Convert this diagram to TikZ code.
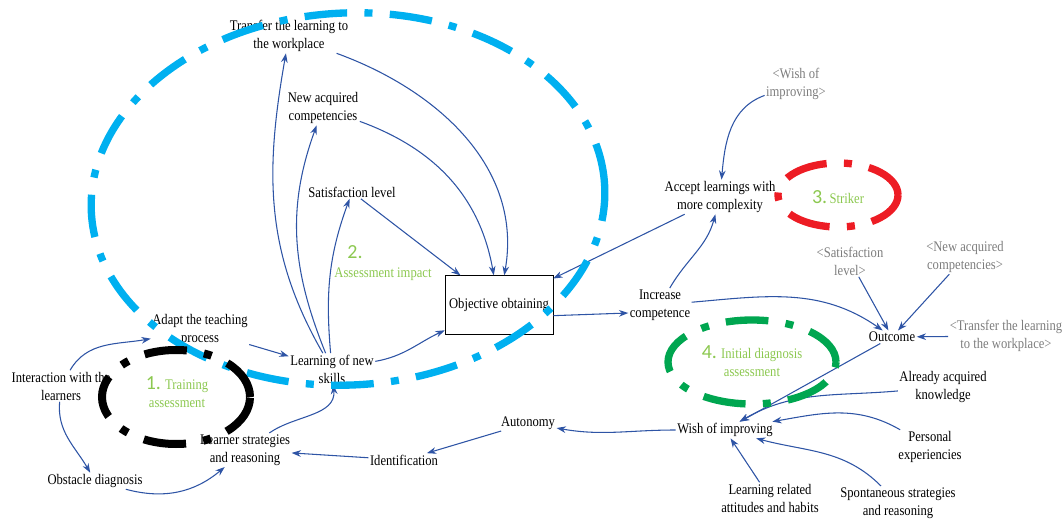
\documentclass[tikz,border=0pt]{standalone}
\usepackage{fontspec}
\setmainfont{Liberation Serif}[FakeStretch=0.86]
\newfontfamily\numfont{Carlito}
\usepackage{tikz}
\usetikzlibrary{arrows.meta}
\usetikzlibrary{calc}

\definecolor{arr}{RGB}{46,84,165}
\definecolor{grn}{RGB}{140,200,80}
\definecolor{loopblue}{RGB}{0,176,240}
\definecolor{loopred}{RGB}{237,28,36}
\definecolor{loopgreen}{RGB}{0,166,80}
\definecolor{shade}{RGB}{125,125,125}

\begin{document}
\begin{tikzpicture}
[x=0.75pt,y=0.75pt,>={Stealth[length=7pt,width=5pt]},
every node/.style={align=center,inner sep=1pt,font=\fontsize{11}{13.5}\selectfont},
lbl/.style={text=grn},
shadow/.style={text=shade},
conn/.style={->,draw=arr,line width=0.8pt},
loop/.style={line width=5.5pt,dash pattern=on 32pt off 13pt on 6pt off 13pt}]

\useasboundingbox (0,0) rectangle (1063,518);

% left loop
\node (inter) at (61,132) {Interaction with the\\learners};
\node (adapt) at (200,188) {Adapt the teaching\\process};
\node (obst) at (95,37) {Obstacle diagnosis};
\node (strat) at (245,68) {Learner strategies\\and reasoning};
\node (learn) at (332,149) {Learning of new\\skills};
\node[lbl] (one) at (177,126) {{\numfont\fontsize{15}{15}\selectfont 1.} Training\\assessment};

% top
\node (transfer) at (289,482) {Transfer the learning to\\the workplace};
\node (newcomp) at (323,410) {New acquired\\competencies};
\node (satis) at (352,326) {Satisfaction level};
\node[lbl,font=\numfont\fontsize{15}{15}\selectfont] (twonum) at (355,266) {2.};
\node[lbl] (two) at (383,244) {Assessment impact};
\node[draw,minimum width=81pt,minimum height=44pt] (obj) at (499,213) {Objective obtaining};

% right
\node (incr) at (660,213) {Increase\\competence};
\node (accept) at (720,321) {Accept learnings with\\more complexity};
\node[shadow] (gwish) at (796,434) {<Wish of\\improving>};
\node[lbl] (three) at (838,321) {{\numfont\fontsize{15}{15}\selectfont 3.}\,Striker};
\node[shadow] (gsatis) at (850,257) {<Satisfaction\\level>};
\node[shadow] (gnew) at (965,261) {<New acquired\\competencies>};
\node (outcome) at (892,181) {Outcome};
\node[shadow] (gtransfer) at (1006,182) {<Transfer the learning\\to the workplace>};
\node[lbl] (four) at (752,157) {{\numfont\fontsize{15}{15}\selectfont 4.} Initial diagnosis\\assessment};

% bottom
\node (already) at (943,131) {Already acquired\\knowledge};
\node (pers) at (930,71) {Personal\\experiencies};
\node (spont) at (898,15) {Spontaneous strategies\\and reasoning};
\node (attit) at (770,20) {Learning related\\attitudes and habits};
\node (wish) at (725,88) {Wish of improving};
\node (auton) at (528,95) {Autonomy};
\node (ident) at (404,58) {Identification};

\foreach \from/\to in {satis/obj,accept/obj,gsatis/outcome,gnew/outcome,gtransfer/outcome,
  outcome/wish,attit/wish,auton/ident,ident/strat,adapt/learn}
\draw[conn] (\from) -- (\to);

\foreach \from/\to/\o/\i in {learn/transfer/120/-100,learn/newcomp/112/-110,learn/satis/95/-110,
  transfer/obj/-20/80,newcomp/obj/-20/100,incr/accept/60/-105,incr/outcome/5/145,
  gwish/accept/200/85,already/wish/185/30,pers/wish/150/10,spont/wish/135/-15,
  wish/auton/180/-10,strat/learn/35/-85,inter/adapt/60/190,inter/obst/-95/120,
  obst/strat/-15/220,learn/obj/10/205}
\draw[conn] (\from) to[out=\o,in=\i] (\to);

\draw[conn] ([yshift=-8pt]obj.east) -- ([yshift=-6pt]incr.west);

% loops
\draw[loop,loopblue,rotate around={3:(348,319)}] (348,319) ellipse [x radius=257,y radius=186];
\draw[loop,black,line width=6pt] (176,121) ellipse [x radius=74,y radius=47];
\draw[loop,loopred] (838,323) ellipse [x radius=60,y radius=32];
\draw[loop,loopgreen] (752,156) ellipse [x radius=84,y radius=42];

\end{tikzpicture}
\end{document}
